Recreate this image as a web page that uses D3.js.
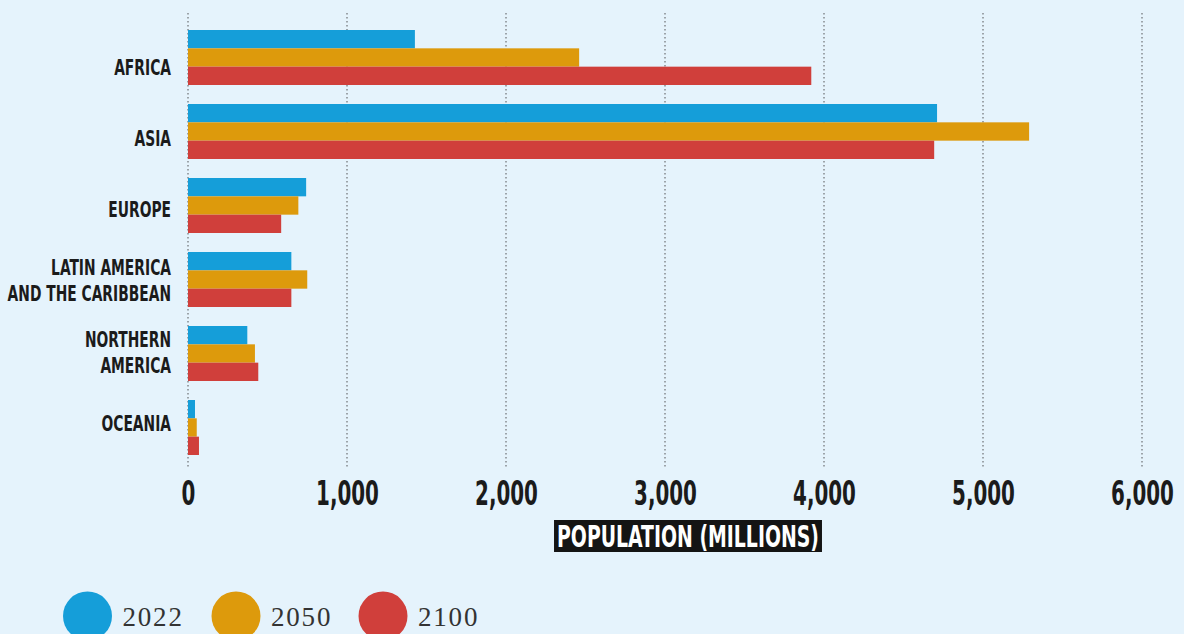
<!DOCTYPE html>
<html><head><meta charset="utf-8">
<script src="https://cdn.jsdelivr.net/npm/d3@7/dist/d3.min.js"></script>
<style>
html,body{margin:0;padding:0;background:#e5f3fc;}
svg{display:block;}
</style></head>
<body>
<svg id="chart" width="1184" height="634"></svg>
<script>
const regions = [["AFRICA"],["ASIA"],["EUROPE"],["LATIN AMERICA","AND THE CARIBBEAN"],["NORTHERN","AMERICA"],["OCEANIA"]];
const years = ["2022","2050","2100"];
const pop2022 = [1427, 4711, 743, 650, 373, 44];
const pop2050 = [2460, 5290, 694, 750, 421, 55];
const pop2100 = [3920, 4693, 586, 650, 442, 69];
const ticks = [0,1000,2000,3000,4000,5000,6000];
const colors = ["#159ed9","#dd9a0c","#d03f3b"];
const axisTitle = "POPULATION (MILLIONS)";

const series = [pop2022, pop2050, pop2100];
const svg = d3.select("#chart");
const condensed = "'DejaVu Sans Condensed','Liberation Sans Narrow',sans-serif";

const x = d3.scaleLinear().domain([0,6000]).range([188,1142]);
const y = d3.scaleBand().domain(d3.range(regions.length)).range([30,455]).paddingInner(0.2568).paddingOuter(0);
const yIn = d3.scaleBand().domain(years).range([0,y.bandwidth()]).padding(0);
const yLab = d3.scalePoint().domain(d3.range(regions.length)).range([66.7,422.8]);

// grid
svg.append("g").selectAll("line").data(ticks).join("line")
  .attr("x1",d=>x(d)).attr("x2",d=>x(d)).attr("y1",13).attr("y2",467)
  .attr("stroke","#8a8f94").attr("stroke-width",1.6).attr("stroke-dasharray","1.6,2.4");

// bars
const g = svg.append("g");
regions.forEach((r,i)=>{
  years.forEach((yr,j)=>{
    g.append("rect")
      .attr("x",x(0)).attr("y",y(i)+yIn(yr))
      .attr("width",x(series[j][i])-x(0)).attr("height",yIn.bandwidth())
      .attr("fill",colors[j]);
  });
});

// category labels
const lab = svg.append("g");
regions.forEach((lines,i)=>{
  const cy = yLab(i);
  const lh = 26;
  lines.forEach((t,k)=>{
    const yy = cy + (k-(lines.length-1)/2)*lh + 8;
    lab.append("text")
      .attr("transform",`translate(171,${yy}) scale(0.7,1)`)
      .attr("text-anchor","end")
      .attr("font-family",condensed).attr("font-weight","bold")
      .attr("font-size",22).attr("fill","#1b1b1b")
      .text(t);
  });
});

// x axis
const ax = svg.append("g").attr("transform","translate(0,470)")
  .call(d3.axisBottom(x).tickValues(ticks).tickSize(0).tickPadding(0).tickFormat(d3.format(",")));
ax.select(".domain").remove();
ax.selectAll("text")
  .attr("y",0).attr("dy",0)
  .attr("transform","translate(0,35) scale(0.67,1)")
  .attr("font-family",condensed).attr("font-weight","bold")
  .attr("font-size",33).attr("fill","#1b1b1b");

// axis title
const tg = svg.append("g");
const tr = tg.append("rect").attr("fill","#141414");
const tt = tg.append("text")
  .attr("transform",`translate(688,547) scale(0.7,1)`)
  .attr("text-anchor","middle")
  .attr("font-family",condensed).attr("font-weight","bold")
  .attr("font-size",30).attr("fill","#ffffff").text(axisTitle);
const bb = tt.node().getBBox();
const w = bb.width*0.7;
tr.attr("x",688-w/2-3).attr("y",520).attr("width",w+6).attr("height",32);

// legend
const legX = [87.5,236,383];
const leg = svg.append("g");
years.forEach((yr,j)=>{
  leg.append("circle").attr("cx",legX[j]).attr("cy",616).attr("r",24.5).attr("fill",colors[j]);
  leg.append("text").attr("x",legX[j]+35).attr("y",626)
    .attr("font-family","'Liberation Serif','DejaVu Serif',serif")
    .attr("font-size",27).attr("letter-spacing",1.8).attr("fill","#333").text(yr);
});
</script>
</body></html>
